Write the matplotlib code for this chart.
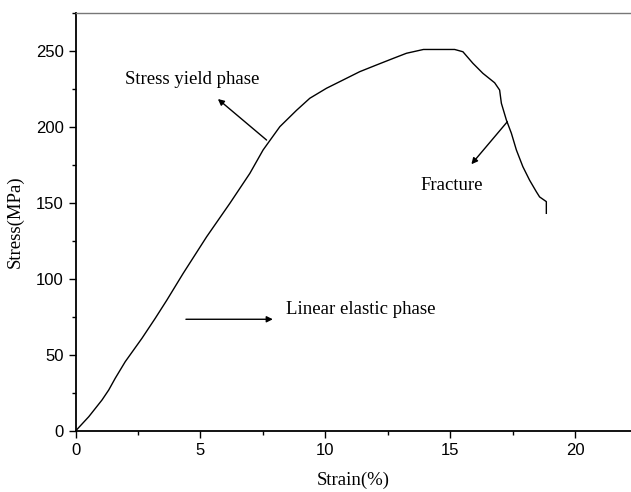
import matplotlib
matplotlib.use("Agg")
import matplotlib.pyplot as plt
from matplotlib.ticker import MultipleLocator

strain = [0.0, 0.53, 1.06, 1.33, 1.59, 1.99, 2.66, 3.19, 3.66, 4.31, 5.25, 6.18,
          6.98, 7.51, 8.18, 8.85, 9.38, 10.05, 10.71, 11.38, 12.05, 12.73, 13.25,
          13.93, 15.18, 15.51, 15.91, 16.31, 16.78, 16.98, 17.05, 17.25, 17.45,
          17.65, 17.91, 18.18, 18.45, 18.58, 18.85, 18.85]
stress = [0.0, 9.4, 20.4, 27.0, 34.7, 45.6, 61.0, 74.1, 86.2, 103.7, 127.8, 149.8,
          169.5, 184.9, 200.2, 211.0, 218.9, 225.5, 230.9, 236.4, 240.8, 245.2, 248.5,
          251.0, 251.0, 249.5, 241.9, 235.3, 229.1, 224.3, 215.6, 204.6, 195.9,
          184.9, 173.9, 165.0, 157.4, 154.0, 150.9, 143.2]

serif = "Liberation Serif"
sans = "Liberation Sans"

fig = plt.figure(figsize=(6.31, 4.92), dpi=100)
ax = fig.add_axes([0.1197, 0.124, 0.8803, 0.8496])
ax.plot(strain, stress, color="black", lw=1.0)

ax.set_xlim(0, 22.24)
ax.set_ylim(0, 275)
ax.xaxis.set_major_locator(MultipleLocator(5))
ax.xaxis.set_minor_locator(MultipleLocator(2.5))
ax.yaxis.set_major_locator(MultipleLocator(50))
ax.yaxis.set_minor_locator(MultipleLocator(25))
ax.tick_params(which="major", direction="out", length=5, width=1.0, labelsize=12)
ax.tick_params(which="minor", direction="out", length=3, width=1.0)
for lab in ax.get_xticklabels() + ax.get_yticklabels():
    lab.set_fontfamily(sans)

ax.spines["right"].set_visible(False)
ax.spines["top"].set_color("#777777")
ax.spines["top"].set_linewidth(1.0)
ax.spines["left"].set_linewidth(1.3)
ax.spines["bottom"].set_linewidth(1.3)

ax.set_xlabel("Strain(%)", fontfamily=serif, fontsize=13.5, labelpad=10)
ax.set_ylabel("Stress(MPa)", fontfamily=serif, fontsize=13.5, labelpad=9)

arrow = dict(arrowstyle="-|>", color="black", lw=1.0, mutation_scale=9,
             shrinkA=0, shrinkB=0)
ax.text(1.98, 231, "Stress yield phase", fontfamily=serif, fontsize=13.5,
        va="center", ha="left")
ax.annotate("", xy=(5.7, 218.4), xytext=(7.65, 191.4), arrowprops=arrow)

ax.text(8.44, 80, "Linear elastic phase", fontfamily=serif, fontsize=13.5,
        va="center", ha="left")
ax.annotate("", xy=(7.9, 73.5), xytext=(4.42, 73.5), arrowprops=arrow)

ax.text(13.81, 161.4, "Fracture", fontfamily=serif, fontsize=13.5,
        va="center", ha="left")
ax.annotate("", xy=(15.85, 175.5), xytext=(17.29, 203.5), arrowprops=arrow)

fig.savefig("out.png", dpi=100)
